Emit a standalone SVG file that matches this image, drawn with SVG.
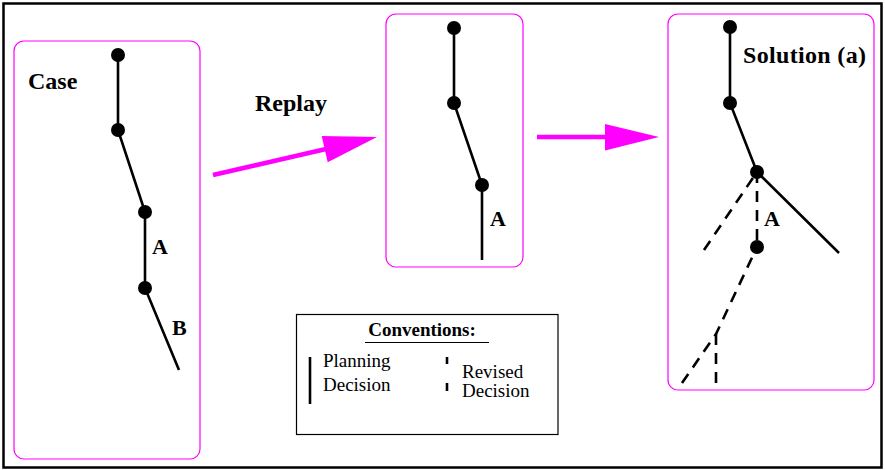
<svg xmlns="http://www.w3.org/2000/svg" width="885" height="470" viewBox="0 0 885 470">
<style>
.frame{fill:none;stroke:#ff00ff;stroke-width:1.2}
.edge{stroke:#000;stroke-width:2.6;fill:none}
.dash{stroke:#000;stroke-width:2.6;fill:none;stroke-dasharray:11 8}
.dot{fill:#000}
.title{font-family:"Liberation Serif","Times New Roman",serif;font-weight:bold;font-size:24px;fill:#000}
.lab{font-family:"Liberation Serif","Times New Roman",serif;font-weight:bold;font-size:22px;fill:#000}
.txt{font-family:"Liberation Serif","Times New Roman",serif;font-size:19px;fill:#000}
.flow{stroke:#ff00ff;stroke-width:4.5;fill:none}
</style>
<rect x="0" y="0" width="885" height="470" fill="#fff"/>
<rect x="3.5" y="3.5" width="878" height="464" fill="none" stroke="#000" stroke-width="2.5"/>

<g id="case">
<rect class="frame" x="14" y="41" width="186" height="418" rx="10"/>
<text class="title" x="28" y="89">Case</text>
<polyline class="edge" points="118,55 118,130 145,212 145,288 179,370"/>
<circle class="dot" cx="118" cy="55" r="7"/>
<circle class="dot" cx="118" cy="130" r="7"/>
<circle class="dot" cx="145" cy="212" r="7"/>
<circle class="dot" cx="145" cy="288" r="7"/>
<text class="lab" x="152" y="254">A</text>
<text class="lab" x="172" y="335">B</text>
</g>

<g id="replayed">
<rect class="frame" x="386" y="14" width="137" height="253" rx="10"/>
<polyline class="edge" points="454,28 454,103 482,185 482,260"/>
<circle class="dot" cx="454" cy="28" r="7"/>
<circle class="dot" cx="454" cy="103" r="7"/>
<circle class="dot" cx="482" cy="185" r="7"/>
<text class="lab" x="490" y="226">A</text>
</g>

<g id="solution">
<rect class="frame" x="668" y="14" width="206" height="376" rx="10"/>
<text class="title" x="743" y="63" textLength="123">Solution (a)</text>
<polyline class="edge" points="730,27 730,103 757,172 839,253"/>
<line class="dash" x1="704" y1="250" x2="757" y2="172"/>
<line class="dash" x1="757" y1="172" x2="757" y2="247"/>
<polyline class="dash" points="682,383 716,334 757,247"/>
<line class="dash" x1="716" y1="383" x2="716" y2="334"/>
<circle class="dot" cx="730" cy="27" r="7"/>
<circle class="dot" cx="730" cy="103" r="7"/>
<circle class="dot" cx="757" cy="172" r="7"/>
<circle class="dot" cx="757" cy="247" r="7"/>
<text class="lab" x="764" y="226">A</text>
</g>

<g id="connectors">
<line class="flow" x1="213" y1="175" x2="326" y2="149"/>
<polygon fill="#ff00ff" points="377,137 321.7,136 327.7,162.3"/>
<text class="title" x="255" y="111">Replay</text>
<line class="flow" x1="537" y1="137" x2="610" y2="137"/>
<polygon fill="#ff00ff" points="659,137 605,124 605,150.5"/>
</g>

<g id="conventions">
<rect x="296.5" y="314.5" width="261.5" height="120" fill="none" stroke="#000" stroke-width="1.2"/>
<text class="txt" x="422" y="336" text-anchor="middle" font-weight="bold">Conventions:</text>
<line x1="365" y1="342.5" x2="489" y2="342.5" stroke="#000" stroke-width="1.2"/>
<line x1="310" y1="357" x2="310" y2="404" stroke="#000" stroke-width="2.6"/>
<text class="txt" x="323" y="367">Planning</text>
<text class="txt" x="323" y="391">Decision</text>
<line x1="447" y1="357" x2="447" y2="364" stroke="#000" stroke-width="2.6"/>
<line x1="447" y1="383" x2="447" y2="391" stroke="#000" stroke-width="2.6"/>
<text class="txt" x="462" y="378">Revised</text>
<text class="txt" x="462" y="397">Decision</text>
</g>
</svg>
